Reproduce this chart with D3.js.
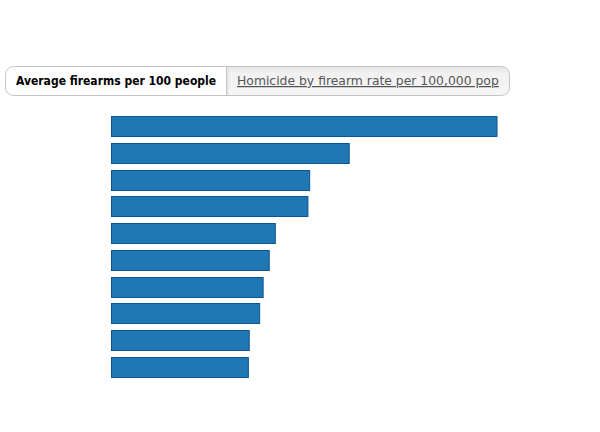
<!DOCTYPE html>
<html>
<head>
<meta charset="utf-8">
<script src="https://cdn.jsdelivr.net/npm/d3@7"></script>
<style>
  html, body { margin: 0; padding: 0; background: #fff; }
  svg { display: block; font-family: "DejaVu Sans", sans-serif; }
</style>
</head>
<body>
<svg id="chart" width="600" height="432"></svg>
<script>
const categories = ["United States", "Yemen", "Switzerland", "Finland", "Serbia", "Cyprus", "Saudi Arabia", "Iraq", "Uruguay", "Sweden"];
const firearmsPer100 = [88.8, 54.8, 45.7, 45.3, 37.8, 36.4, 35.0, 34.2, 31.8, 31.6];
const tabLabels = ["Average firearms per 100 people", "Homicide by firearm rate per 100,000 pop"];

const svg = d3.select("#chart");
const defs = svg.append("defs");

// Tab buttons
const gx = 5.5, gy = 66.5, gw = 504, gh = 29, split = 226;
defs.append("clipPath").attr("id", "tabclip")
  .append("rect").attr("x", gx).attr("y", gy).attr("width", gw).attr("height", gh).attr("rx", 8).attr("ry", 8);
const grad = defs.append("linearGradient").attr("id", "inset").attr("x1", 0).attr("y1", 0).attr("x2", 0).attr("y2", 1);
grad.append("stop").attr("offset", "0%").attr("stop-color", "#e6e6e6");
grad.append("stop").attr("offset", "25%").attr("stop-color", "#f1f1f1");
grad.append("stop").attr("offset", "100%").attr("stop-color", "#f6f6f6");
const gradL = defs.append("linearGradient").attr("id", "insetL").attr("x1", 0).attr("y1", 0).attr("x2", 1).attr("y2", 0);
gradL.append("stop").attr("offset", "0%").attr("stop-color", "#dcdcdc").attr("stop-opacity", 1);
gradL.append("stop").attr("offset", "100%").attr("stop-color", "#f0f0f0").attr("stop-opacity", 0);

const tabs = svg.append("g").attr("clip-path", "url(#tabclip)");
tabs.append("rect").attr("x", gx).attr("y", gy).attr("width", gw).attr("height", gh).attr("fill", "#fff");
tabs.append("rect").attr("x", split).attr("y", gy).attr("width", gx + gw - split).attr("height", gh).attr("fill", "url(#inset)");
tabs.append("rect").attr("x", split).attr("y", gy).attr("width", 6).attr("height", gh).attr("fill", "url(#insetL)");
svg.append("rect").attr("x", gx).attr("y", gy).attr("width", gw).attr("height", gh).attr("rx", 8).attr("ry", 8)
  .attr("fill", "none").attr("stroke", "#c4c4c4");
svg.append("line").attr("x1", split + 0.5).attr("x2", split + 0.5).attr("y1", gy).attr("y2", gy + gh).attr("stroke", "#c4c4c4");

function fitWidth(sel, target) {
  const node = sel.node();
  const fs = parseFloat(sel.attr("font-size"));
  const w = node.getComputedTextLength();
  if (w > 0 && Math.abs(w - target) / target > 0.02) sel.attr("font-size", (fs * target / w).toFixed(2));
}

const t1 = svg.append("text").attr("x", 16).attr("y", 85).attr("font-size", 12).attr("font-weight", "bold")
  .style("font-family", "'DejaVu Sans Condensed', 'DejaVu Sans', sans-serif").style("font-stretch", "condensed")
  .attr("fill", "#000").text(tabLabels[0]);
fitWidth(t1, 199);
const t2 = svg.append("text").attr("x", 237).attr("y", 85).attr("font-size", 12).attr("fill", "#555")
  .attr("text-decoration", "underline").text(tabLabels[1]);
fitWidth(t2, 262);

// Bars
const x = d3.scaleLinear().domain([0, d3.max(firearmsPer100)]).range([0, 386]);
const y = d3.scaleBand().domain(categories).range([116, 377.1]).paddingInner(0.25).paddingOuter(0);

svg.append("g").attr("transform", "translate(111.5,0)")
  .selectAll("rect").data(categories).join("rect")
  .attr("x", 0)
  .attr("y", d => Math.round(y(d)) + 0.5)
  .attr("width", (d, i) => x(firearmsPer100[i]) - 0.5)
  .attr("height", Math.round(y.bandwidth()))
  .attr("fill", "#1f77b4")
  .attr("stroke", "#0c5592")
  .attr("stroke-width", 1);
</script>
</body>
</html>
